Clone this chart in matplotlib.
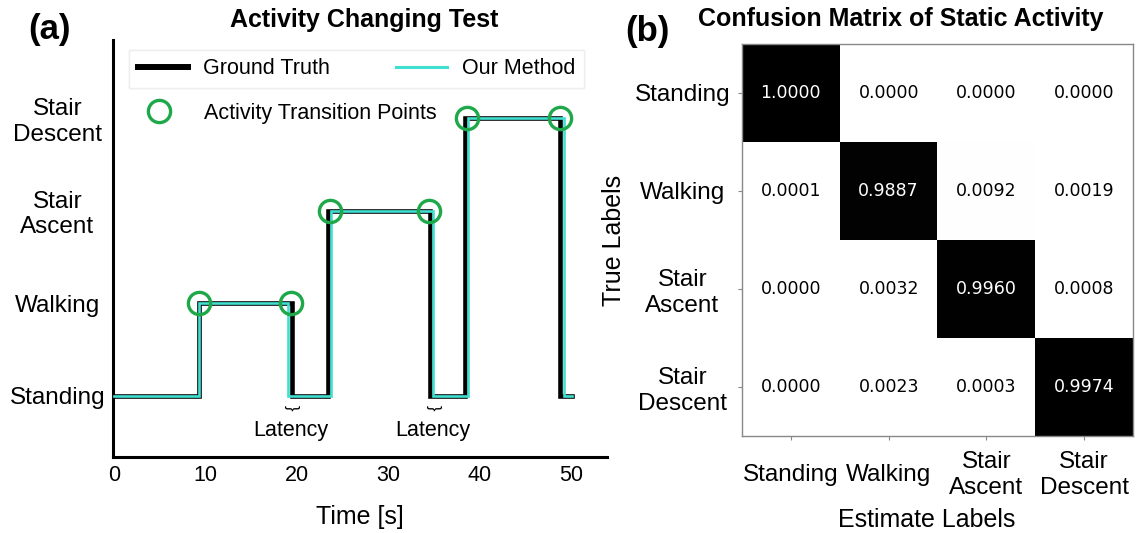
import matplotlib
matplotlib.use('Agg')
import matplotlib.pyplot as plt
from matplotlib.lines import Line2D

# ---------------- data ----------------
activity_labels = ['Standing', 'Walking', 'Stair\nAscent', 'Stair\nDescent']
x_ticks = [0, 10, 20, 30, 40, 50]

gt_times = [0, 9.25, 19.4, 23.35, 34.5, 38.4, 48.75, 50.05]
gt_levels = [0, 1, 0, 2, 0, 3, 0]
pred_times = [0, 9.3, 19.0, 23.7, 34.9, 38.65, 49.2, 50.05]
pred_levels = [0, 1, 0, 2, 0, 3, 0]
trans_times = [9.3, 19.3, 23.6, 34.4, 38.6, 48.8]
trans_levels = [1, 1, 2, 2, 3, 3]
latency_times = [19.3, 34.85]

cm_row_labels = ['Standing', 'Walking', 'Stair\nAscent', 'Stair\nDescent']
cm_col_labels = ['Standing', 'Walking', 'Stair\nAscent', 'Stair\nDescent']
cm_row0 = [1.0000, 0.0000, 0.0000, 0.0000]
cm_row1 = [0.0001, 0.9887, 0.0092, 0.0019]
cm_row2 = [0.0000, 0.0032, 0.9960, 0.0008]
cm_row3 = [0.0000, 0.0023, 0.0003, 0.9974]

# ---------------- figure ----------------
W, H = 1141, 533
fig = plt.figure(figsize=(W / 100, H / 100), dpi=100)
FONT = 'Liberation Sans'
plt.rcParams['font.family'] = [FONT, 'DejaVu Sans']

def fx(px):
    return px / W

def fy(py):
    return 1 - py / H

BLACK = '#000000'
CYAN = '#40E0D0'
GREEN = '#1FA84A'

# ---------------- panel (a) ----------------
ax = fig.add_axes([fx(113), fy(457), fx(607) - fx(113), fy(40) - fy(457)])
ax.step(gt_times, gt_levels + [gt_levels[-1]], where='post', color=BLACK,
        lw=3.3, solid_joinstyle='miter', zorder=2)
ax.step(pred_times, pred_levels + [pred_levels[-1]], where='post', color=CYAN,
        lw=1.9, solid_joinstyle='miter', zorder=3)
ax.plot(trans_times, trans_levels, linestyle='none', marker='o', ms=16,
        mfc='none', mec=GREEN, mew=2.4, zorder=4)

ax.set_xlim(-0.16, 53.9)
ax.set_ylim(-0.66, 3.84)
ax.set_xticks(x_ticks)
ax.set_xticklabels([str(t) for t in x_ticks], fontsize=15.5)
ax.set_yticks(range(len(activity_labels)))
ax.set_yticklabels(activity_labels, fontsize=17.5, ha='center', multialignment='center')
ax.tick_params(axis='x', length=0, pad=6)
ax.tick_params(axis='y', length=0, pad=40)
for s in ['top', 'right']:
    ax.spines[s].set_visible(False)
for s in ['left', 'bottom']:
    ax.spines[s].set_linewidth(2.2)

for t in latency_times:
    ax.text(t, -0.13, '}', rotation=-90, fontsize=12, ha='center', va='center')
    ax.text(t, -0.37, 'Latency', fontsize=15.5, ha='center', va='center')

fig.text(fx(360), fy(517), 'Time [s]', fontsize=18, ha='center', va='center')
fig.text(fx(364), fy(20), 'Activity Changing Test', fontsize=18, fontweight='bold',
         ha='center', va='center')
fig.text(fx(50), fy(30), '(a)', fontsize=25, fontweight='bold', ha='center', va='center')

h_gt = Line2D([], [], color=BLACK, lw=4.3)
h_om = Line2D([], [], color=CYAN, lw=2.2)
h_tp = Line2D([], [], linestyle='none', marker='o', ms=16, mfc='none', mec=GREEN, mew=2.4)
leg1 = fig.legend([h_gt, h_om], ['Ground Truth', 'Our Method'], ncol=2,
                  loc='center left', bbox_to_anchor=(fx(129), fy(69)),
                  fontsize=15.5, handlelength=2.33, handletextpad=0.7,
                  columnspacing=3.1, borderaxespad=0, frameon=True,
                  fancybox=False, edgecolor='#eeeeee', framealpha=1)
leg2 = fig.legend([h_tp], ['Activity Transition Points'], loc='center left',
                  bbox_to_anchor=(fx(129), fy(113)), fontsize=15.5,
                  handlelength=2.0, handletextpad=1.1, borderaxespad=0,
                  frameon=False)
fig.add_artist(leg1)

# ---------------- panel (b) ----------------
cm = [cm_row0, cm_row1, cm_row2, cm_row3]
bx = fig.add_axes([fx(742), fy(436), fx(1133) - fx(742), fy(44) - fy(436)])
bx.imshow(cm, cmap='Greys', vmin=0, vmax=1, aspect='auto')
for i, row in enumerate(cm):
    for j, v in enumerate(row):
        bx.text(j, i, f'{v:.4f}', ha='center', va='center', fontsize=12.5,
                family='DejaVu Sans', color='white' if v > 0.5 else 'black')
bx.set_xticks(range(len(cm_col_labels)))
bx.set_xticklabels(cm_col_labels, fontsize=17.5, va='center', multialignment='center')
bx.set_yticks(range(len(cm_row_labels)))
bx.set_yticklabels(cm_row_labels, fontsize=17.5, ha='center', multialignment='center')
bx.tick_params(axis='x', length=3, color='#888888', pad=25)
bx.tick_params(axis='y', length=3, color='#888888', pad=40)
for s in bx.spines.values():
    s.set_color('#888888')
    s.set_linewidth(1.0)

fig.text(fx(614), fy(240), 'True Labels', fontsize=18, rotation=90,
         ha='center', va='center')
fig.text(fx(927), fy(520), 'Estimate Labels', fontsize=18, ha='center', va='center')
fig.text(fx(901), fy(19), 'Confusion Matrix of Static Activity', fontsize=18,
         fontweight='bold', ha='center', va='center')
fig.text(fx(647), fy(31), '(b)', fontsize=25, fontweight='bold', ha='center', va='center')

fig.savefig('out.png', dpi=100)
